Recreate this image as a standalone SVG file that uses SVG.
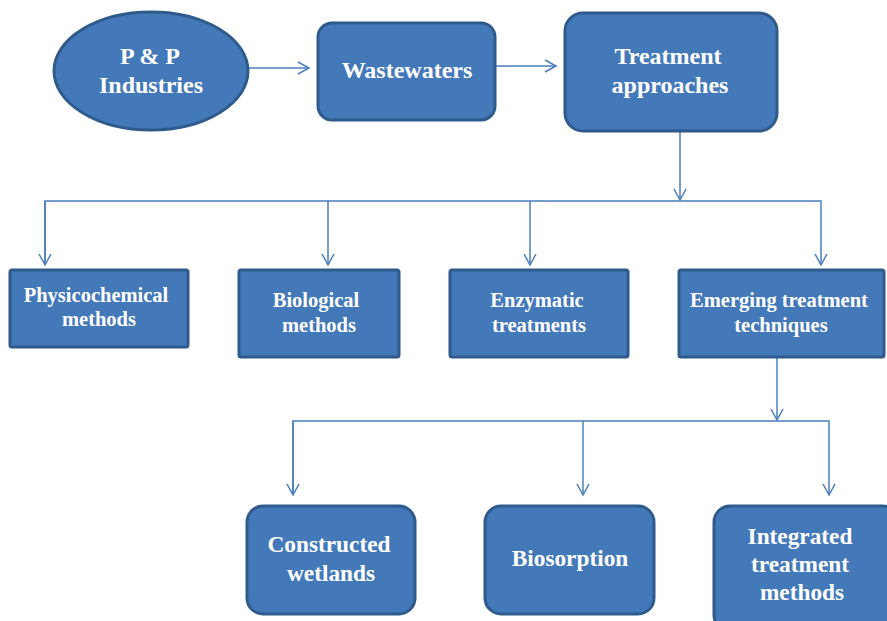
<svg xmlns="http://www.w3.org/2000/svg" width="887" height="621" viewBox="0 0 887 621">
<style>
.n{fill:#4479b9;stroke:#2f5b8c;stroke-width:3}
.t{font-family:"Liberation Serif",serif;font-weight:bold;fill:#fff;text-anchor:middle}
.l{fill:none;stroke:#4a7ebb;stroke-width:1.5}
.big{font-size:24px}
.low{font-size:23.3px}
.mid{font-size:20.5px}
</style>
<defs>
<marker id="a" markerWidth="14" markerHeight="14" refX="12" refY="7" orient="auto" markerUnits="userSpaceOnUse">
<path d="M1,1 L12,7 L1,13" fill="none" stroke="#4a7ebb" stroke-width="1.5"/>
</marker>
</defs>
<g id="connectors">
<line class="l" x1="248" y1="68" x2="309" y2="68" marker-end="url(#a)"/>
<line class="l" x1="495" y1="66" x2="556" y2="66" marker-end="url(#a)"/>
<line class="l" x1="680" y1="131" x2="680" y2="200" marker-end="url(#a)"/>
<polyline class="l" points="45,265 45,201 821,201 821,265" marker-end="url(#a)"/>
<line class="l" x1="45" y1="201" x2="45" y2="265" marker-end="url(#a)"/>
<line class="l" x1="328" y1="201" x2="328" y2="265" marker-end="url(#a)"/>
<line class="l" x1="530" y1="201" x2="530" y2="265" marker-end="url(#a)"/>
<line class="l" x1="777" y1="357" x2="777" y2="420" marker-end="url(#a)"/>
<polyline class="l" points="293,495 293,421 829,421 829,495" marker-end="url(#a)"/>
<line class="l" x1="293" y1="421" x2="293" y2="495" marker-end="url(#a)"/>
<line class="l" x1="583" y1="421" x2="583" y2="495" marker-end="url(#a)"/>
</g>
<g id="pp">
<ellipse class="n" cx="151" cy="71" rx="97" ry="59"/>
<text class="t big" x="150" y="64">P &amp; P</text>
<text class="t big" x="151" y="93">Industries</text>
</g>
<g id="wastewaters">
<rect class="n" x="318" y="23" width="177" height="97" rx="14"/>
<text class="t big" x="407" y="78">Wastewaters</text>
</g>
<g id="treatment">
<rect class="n" x="565" y="13" width="212" height="118" rx="18"/>
<text class="t big" x="668" y="64">Treatment</text>
<text class="t big" x="670" y="93">approaches</text>
</g>
<g id="physico">
<rect class="n" x="10" y="270" width="178" height="77" rx="2"/>
<text class="t mid" x="96" y="302">Physicochemical</text>
<text class="t mid" x="99" y="326">methods</text>
</g>
<g id="biological">
<rect class="n" x="239" y="270" width="160" height="87" rx="2"/>
<text class="t mid" x="316" y="307">Biological</text>
<text class="t mid" x="319" y="332">methods</text>
</g>
<g id="enzymatic">
<rect class="n" x="450" y="270" width="178" height="87" rx="2"/>
<text class="t mid" x="537" y="307">Enzymatic</text>
<text class="t mid" x="539" y="332">treatments</text>
</g>
<g id="emerging">
<rect class="n" x="679" y="270" width="205" height="87" rx="2"/>
<text class="t mid" x="779" y="307">Emerging treatment</text>
<text class="t mid" x="781" y="332">techniques</text>
</g>
<g id="wetlands">
<rect class="n" x="247" y="506" width="168" height="108" rx="16"/>
<text class="t low" x="329" y="552">Constructed</text>
<text class="t low" x="331" y="581">wetlands</text>
</g>
<g id="biosorption">
<rect class="n" x="485" y="506" width="169" height="108" rx="16"/>
<text class="t low" x="570" y="566">Biosorption</text>
</g>
<g id="integrated">
<rect class="n" x="714" y="506" width="185" height="125" rx="16"/>
<text class="t low" x="800" y="544">Integrated</text>
<text class="t low" x="800" y="572">treatment</text>
<text class="t low" x="802" y="600">methods</text>
</g>
</svg>
